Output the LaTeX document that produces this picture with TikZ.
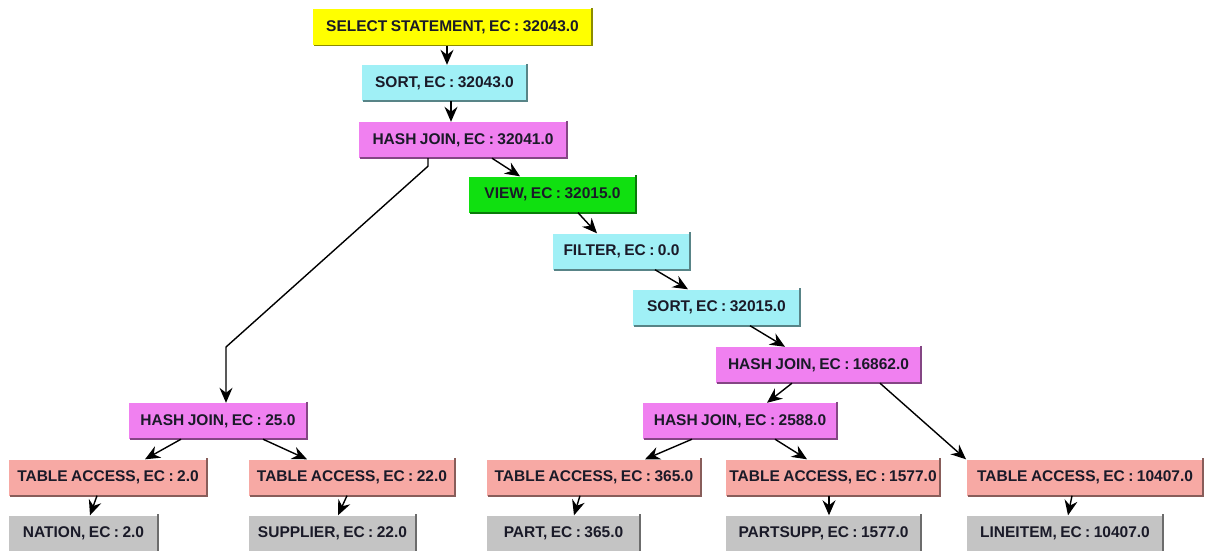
\documentclass[tikz,border=0pt]{standalone}
\usepackage{fontspec}
\setmainfont{Liberation Sans}[WordSpace=0.8]
\usetikzlibrary{arrows.meta,calc}

\definecolor{selC}{HTML}{FFFF00}
\definecolor{cyanC}{HTML}{A0F0F6}
\definecolor{joinC}{HTML}{F080F0}
\definecolor{viewC}{HTML}{10E010}
\definecolor{tabC}{HTML}{F7A9A4}
\definecolor{leafC}{HTML}{C4C4C4}
\definecolor{inkC}{HTML}{1A1A28}

\begin{document}
\begin{tikzpicture}[x=1pt,y=-1pt,
  opbox/.style={rectangle, inner sep=0pt, minimum height=36pt,
    fill=#1, text=inkC, font=\bfseries\fontsize{15.5}{18}\selectfont},
  flow/.style={draw=black, line width=1.4pt,
    -{Stealth[length=15pt,width=13pt,inset=5pt]}}]

\useasboundingbox (0,0) rectangle (1210,551);

% plan operators
\node[opbox=selC,  minimum width=279pt] (sel)    at (452.5,27.5)  {SELECT STATEMENT, EC : 32043.0};
\node[opbox=cyanC, minimum width=165pt] (sortA)  at (444.5,83)    {SORT, EC : 32043.0};
\node[opbox=joinC, minimum width=208pt] (hjA)    at (463,140)     {HASH JOIN, EC : 32041.0};
\node[opbox=viewC, minimum width=167pt] (view)   at (552.5,194.5) {VIEW, EC : 32015.0};
\node[opbox=cyanC, minimum width=137pt] (filter) at (621.5,251.5) {FILTER, EC : 0.0};
\node[opbox=cyanC, minimum width=167pt] (sortB)  at (716.5,307.5) {SORT, EC : 32015.0};
\node[opbox=joinC, minimum width=205pt] (hjB)    at (818.5,365)   {HASH JOIN, EC : 16862.0};
\node[opbox=joinC, minimum width=178pt] (hjC)    at (218,421)     {HASH JOIN, EC : 25.0};
\node[opbox=joinC, minimum width=194pt] (hjD)    at (740,421)     {HASH JOIN, EC : 2588.0};

% table accesses
\node[opbox=tabC, minimum width=198pt] (taA) at (108,477.5)  {TABLE ACCESS, EC : 2.0};
\node[opbox=tabC, minimum width=206pt] (taB) at (352,477.5)  {TABLE ACCESS, EC : 22.0};
\node[opbox=tabC, minimum width=214pt] (taC) at (594,477.5)  {TABLE ACCESS, EC : 365.0};
\node[opbox=tabC, minimum width=214pt] (taD) at (833,477.5)  {TABLE ACCESS, EC : 1577.0};
\node[opbox=tabC, minimum width=236pt] (taE) at (1085,477.5) {TABLE ACCESS, EC : 10407.0};

% base tables
\node[opbox=leafC, minimum width=149pt] (nation)   at (83.5,533.5)  {NATION, EC : 2.0};
\node[opbox=leafC, minimum width=167pt] (supplier) at (332.5,533.5) {SUPPLIER, EC : 22.0};
\node[opbox=leafC, minimum width=153pt] (part)     at (563.5,533.5) {PART, EC : 365.0};
\node[opbox=leafC, minimum width=195pt] (partsupp) at (823.5,533.5) {PARTSUPP, EC : 1577.0};
\node[opbox=leafC, minimum width=196pt] (lineitem) at (1065,533.5)  {LINEITEM, EC : 10407.0};

% raised edge on the right and bottom of every box
\foreach \n/\c in {sel/selC,sortA/cyanC,hjA/joinC,view/viewC,filter/cyanC,
    sortB/cyanC,hjB/joinC,hjC/joinC,hjD/joinC,taA/tabC,taB/tabC,taC/tabC,
    taD/tabC,taE/tabC,nation/leafC,supplier/leafC,part/leafC,partsupp/leafC,
    lineitem/leafC}
  \draw[\c!55!black, line width=1.6pt]
    ([yshift=1pt]\n.north east) -- (\n.south east) -- ([xshift=1pt]\n.south west);

% connectors
\draw[flow] ([xshift=-5.5pt]sel.south)   -- ([xshift=2.5pt]sortA.north);
\draw[flow] ([xshift=6.5pt]sortA.south)  -- ([xshift=-12pt]hjA.north);
\draw[flow] ([xshift=29pt]hjA.south)     -- ([xshift=-32.5pt]view.north);
\draw[flow] ([xshift=25.5pt]view.south)  -- ([xshift=-24.5pt]filter.north);
\draw[flow] ([xshift=33.5pt]filter.south)-- ([xshift=-28.5pt]sortB.north);
\draw[flow] ([xshift=33.5pt]sortB.south) -- ([xshift=-33.5pt]hjB.north);
\draw[flow] ([xshift=-26.5pt]hjB.south)  -- ([xshift=27pt]hjD.north);
\draw[flow] ([xshift=61.5pt]hjB.south)   -- ([xshift=-119pt]taE.north);
\draw[flow] ([xshift=-48pt]hjD.south)    -- ([xshift=51pt]taC.north);
\draw[flow] ([xshift=35pt]hjD.south)     -- ([xshift=-26pt]taD.north);

\coordinate (bend) at (226,347);
\draw[flow] ([xshift=-35pt]hjA.south) -- ++(0,8) -- (bend) -- (bend |- hjC.north);

\draw[flow] ([xshift=-37pt]hjC.south) -- ([xshift=37pt]taA.north);
\draw[flow] ([xshift=45pt]hjC.south)  -- ([xshift=-45pt]taB.north);

\draw[flow] ([xshift=-11pt]taA.south) -- ([xshift=6.5pt]nation.north);
\draw[flow] ([xshift=-5pt]taB.south)  -- ([xshift=5.5pt]supplier.north);
\draw[flow] ([xshift=-14pt]taC.south) -- ([xshift=10.5pt]part.north);
\draw[flow] ([xshift=-4pt]taD.south)  -- ([xshift=5.5pt]partsupp.north);
\draw[flow] ([xshift=-13pt]taE.south) -- ([xshift=3pt]lineitem.north);

\end{tikzpicture}
\end{document}
